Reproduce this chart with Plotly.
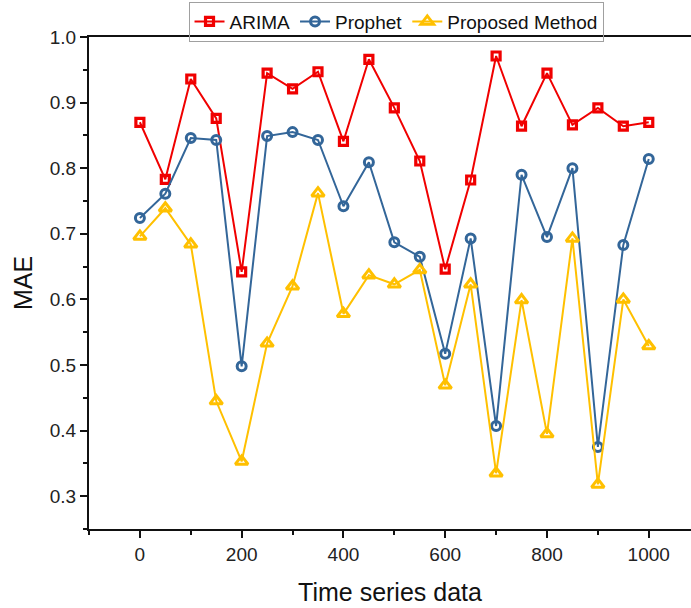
import plotly.graph_objects as go

x_vals = [0, 50, 100, 150, 200, 250, 300, 350, 400, 450, 500,
          550, 600, 650, 700, 750, 800, 850, 900, 950, 1000]
arima = [0.870, 0.783, 0.936, 0.876, 0.642, 0.945, 0.921, 0.947, 0.841, 0.966, 0.892,
         0.811, 0.646, 0.782, 0.971, 0.864, 0.945, 0.866, 0.892, 0.864, 0.870]
prophet = [0.724, 0.761, 0.846, 0.843, 0.498, 0.849, 0.855, 0.843, 0.742, 0.809, 0.687,
           0.665, 0.517, 0.693, 0.407, 0.790, 0.695, 0.800, 0.375, 0.683, 0.814]
proposed = [0.696, 0.739, 0.684, 0.445, 0.353, 0.533, 0.620, 0.762, 0.578, 0.637, 0.623,
            0.645, 0.469, 0.623, 0.335, 0.599, 0.395, 0.693, 0.318, 0.600, 0.529]

series = [
    ("ARIMA", arima, "#F00000", "square-open", 8, 3.2),
    ("Prophet", prophet, "#336699", "circle-open", 9, 3),
    ("Proposed Method", proposed, "#FFC000", "triangle-up-open", 11, 3),
]

FONT = "Liberation Sans, Arial, sans-serif"

fig = go.Figure()
for name, vals, color, sym, msize, mlw in series:
    fig.add_trace(go.Scatter(
        x=x_vals, y=vals, name=name, mode="lines+markers",
        line=dict(color=color, width=2),
        marker=dict(symbol=sym, size=msize, color=color, line=dict(color=color, width=mlw)),
    ))

fig.update_layout(
    width=691, height=608,
    margin=dict(l=89, r=0, t=37, b=79, autoexpand=False),
    paper_bgcolor="white", plot_bgcolor="white",
    font=dict(family=FONT, color="#222222", size=19),
    showlegend=True,
    legend=dict(
        orientation="h", x=0.51, xanchor="center", y=1.072, yanchor="top",
        bordercolor="#A0A0A0", borderwidth=1, bgcolor="rgba(255,255,255,0)",
        font=dict(family=FONT, size=19, color="#111111"),
        itemwidth=30, tracegroupgap=0,
    ),
    xaxis=dict(
        range=[-100, 1083], tickmode="linear", tick0=0, dtick=200,
        showgrid=False, zeroline=False,
        showline=True, linecolor="#111111", linewidth=2, mirror=True,
        ticks="outside", ticklen=7, tickwidth=1.5, tickcolor="#111111",
        minor=dict(ticks="outside", ticklen=4, tickwidth=1.5, tickcolor="#111111", dtick=100, tick0=0),
        title=dict(text="Time series data", font=dict(size=25, family=FONT, color="#111111"), standoff=20),
        tickfont=dict(size=19, family=FONT, color="#222222"),
    ),
    yaxis=dict(
        range=[0.25, 1.0], tickmode="linear", tick0=0.3, dtick=0.1, tickformat=".1f",
        showgrid=False, zeroline=False,
        showline=True, linecolor="#111111", linewidth=2, mirror=True,
        ticks="outside", ticklen=7, tickwidth=1.5, tickcolor="#111111",
        minor=dict(ticks="outside", ticklen=4, tickwidth=1.5, tickcolor="#111111", dtick=0.05, tick0=0.25),
        title=dict(text="MAE", font=dict(size=25, family=FONT, color="#111111"), standoff=10),
        tickfont=dict(size=19, family=FONT, color="#222222"),
    ),
)

fig.write_html("out.html")
